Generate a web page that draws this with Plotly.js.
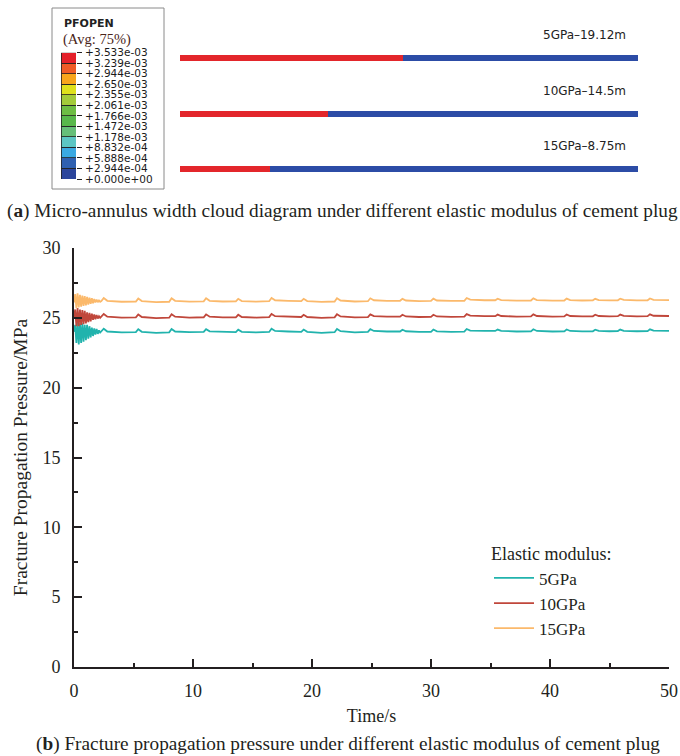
<!DOCTYPE html>
<html>
<head>
<meta charset="utf-8">
<script src="https://cdn.plot.ly/plotly-3.0.1.min.js"></script>
<style>html,body{margin:0;padding:0;background:#fff;}#chart{width:680px;height:756px;}</style>
</head>
<body>
<div id="chart"></div>
<script>
// ---------- Part (b): fracture propagation pressure ----------
const time = [
  0.0,0.1,0.2,0.3,0.4,0.5,0.6,0.7,0.8,0.9,1.0,1.1,1.2,1.3,1.4,1.5,1.6,1.7,1.8,1.9,2.0,2.1,2.2,2.3,
  2.5,2.8,4.0,5.2, 5.4,5.7,6.9,8.0, 8.2,8.5,9.7,10.9, 11.1,11.4,12.5,13.6,
  13.8,14.1,15.3,16.4, 16.6,16.9,18.0,19.1, 19.3,19.6,20.8,21.9, 22.1,22.4,23.6,24.7,
  24.9,25.2,26.3,27.4, 27.6,27.9,29.0,30.0, 30.2,30.5,31.7,32.8, 33.0,33.3,34.5,35.4,
  35.6,35.9,37.2,38.4, 38.6,38.9,40.2,41.2, 41.4,41.7,42.7,43.6, 43.8,44.1,45.0,45.7,
  45.9,46.2,47.3,48.2, 48.4,48.7,50.0
];
const p5GPa = [
  24.0,24.5,23.2,24.7,23.1,24.6,23.2,24.6,23.3,24.5,23.4,24.5,23.5,24.4,23.6,24.3,23.7,24.25,23.8,24.2,23.85,24.1,23.95,24.02,
  24.22,24.02,23.96,23.98, 24.18,24.0,23.92,23.96, 24.2,24.02,23.97,23.99, 24.19,24.03,23.98,23.98,
  24.15,24.0,23.96,23.99, 24.22,24.06,24.02,24.0, 24.16,24.0,23.93,23.97, 24.2,24.04,23.96,23.99,
  24.19,24.06,24.02,24.02, 24.15,24.04,23.99,24.0, 24.16,24.03,24.0,24.01, 24.2,24.09,24.06,24.06,
  24.16,24.07,24.02,24.03, 24.18,24.06,24.02,24.03, 24.17,24.06,24.03,24.04, 24.15,24.07,24.04,24.05,
  24.16,24.07,24.04,24.05, 24.18,24.08,24.06
];
const p10GPa = [
  25.0,25.6,24.4,25.7,24.4,25.6,24.5,25.55,24.55,25.5,24.6,25.4,24.7,25.35,24.75,25.3,24.85,25.25,24.9,25.2,24.95,25.12,25.0,25.08,
  25.28,25.08,25.02,25.03, 25.24,25.06,24.98,25.01, 25.26,25.08,25.02,25.04, 25.25,25.08,25.03,25.04,
  25.22,25.06,25.02,25.05, 25.28,25.12,25.08,25.06, 25.22,25.06,25.0,25.03, 25.26,25.1,25.03,25.05,
  25.25,25.12,25.08,25.08, 25.22,25.1,25.06,25.07, 25.22,25.1,25.07,25.08, 25.27,25.16,25.12,25.12,
  25.23,25.13,25.09,25.1, 25.25,25.13,25.09,25.1, 25.24,25.13,25.1,25.11, 25.22,25.13,25.11,25.12,
  25.23,25.14,25.11,25.12, 25.25,25.15,25.13
];
const p15GPa = [
  26.1,26.7,25.7,26.75,25.75,26.65,25.8,26.6,25.85,26.55,25.9,26.5,25.95,26.45,26.0,26.4,26.05,26.35,26.1,26.3,26.12,26.25,26.15,26.2,
  26.42,26.22,26.15,26.17, 26.38,26.2,26.12,26.15, 26.4,26.22,26.16,26.18, 26.4,26.22,26.17,26.18,
  26.36,26.2,26.16,26.19, 26.42,26.26,26.22,26.2, 26.36,26.2,26.14,26.17, 26.4,26.24,26.17,26.19,
  26.4,26.26,26.22,26.22, 26.36,26.24,26.2,26.21, 26.37,26.24,26.21,26.22, 26.42,26.3,26.26,26.26,
  26.37,26.27,26.23,26.24, 26.39,26.27,26.23,26.24, 26.38,26.27,26.24,26.25, 26.36,26.27,26.25,26.26,
  26.37,26.28,26.25,26.26, 26.39,26.29,26.27
];
const seriesNames = ['5GPa', '10GPa', '15GPa'];
const seriesColors = ['#21b3ad', '#c0473b', '#fbb96b'];

// ---------- Part (a): micro-annulus cloud diagram ----------
const modulusCases = ['5GPa', '10GPa', '15GPa'];
const caseLabels = ['5GPa\u201319.12m', '10GPa\u201314.5m', '15GPa\u20138.75m'];
const pipeLength = 40;                 // m (drawn length of the annulus)
const openLength = [19.5, 12.95, 7.9]; // m (red, opened part as drawn)
const closedLength = openLength.map(v => pipeLength - v);

// contour legend (bottom band first)
const bandTickLabels = ['+0.000e+00','+2.944e-04','+5.888e-04','+8.832e-04','+1.178e-03','+1.472e-03',
  '+1.766e-03','+2.061e-03','+2.355e-03','+2.650e-03','+2.944e-03','+3.239e-03','+3.533e-03'];
const bandColors = ['#2c469c','#2f60b0','#3aa9e2','#5cc6c4','#66bf79','#58b84b','#6dbd44',
  '#a3cb3a','#dfe11c','#f8a51c','#ef5b27','#e4202a'];
const bandValues = [1,1,1,1,1,1,1,1,1,1,1,1];

const serif = 'Liberation Serif, Times New Roman, serif';
const sans = 'DejaVu Sans, Verdana, sans-serif';
const ink = '#231f20';

const traces = [];
// line series
[p5GPa, p10GPa, p15GPa].forEach((vals, i) => {
  traces.push({
    type: 'scatter', mode: 'lines', x: time, y: vals, name: seriesNames[i],
    line: {color: seriesColors[i], width: 1.8}, xaxis: 'x', yaxis: 'y', hoverinfo: 'skip'
  });
});
// annulus bars
traces.push({
  type: 'bar', orientation: 'h', y: modulusCases, x: openLength, width: 0.11,
  marker: {color: '#e3262b'}, xaxis: 'x2', yaxis: 'y2', showlegend: false, hoverinfo: 'skip'
});
traces.push({
  type: 'bar', orientation: 'h', y: modulusCases, x: closedLength, width: 0.11,
  marker: {color: '#2c4ca6'}, xaxis: 'x2', yaxis: 'y2', showlegend: false, hoverinfo: 'skip'
});
// contour legend bands
bandValues.forEach((v, i) => {
  traces.push({
    type: 'bar', x: ['PFOPEN'], y: [v], width: 1,
    marker: {color: bandColors[i], line: {color: '#222', width: 0.8}},
    xaxis: 'x3', yaxis: 'y3', showlegend: false, hoverinfo: 'skip'
  });
});

const W = 680, H = 756;
const px = v => v / W, py = v => 1 - v / H;

const layout = {
  width: W, height: H,
  margin: {l: 0, r: 0, t: 0, b: 0},
  paper_bgcolor: '#ffffff', plot_bgcolor: 'rgba(0,0,0,0)',
  barmode: 'stack',
  font: {family: serif, color: ink},
  showlegend: true,
  legend: {
    x: px(489), y: py(537), xanchor: 'left', yanchor: 'top', traceorder: 'normal',
    bgcolor: 'rgba(0,0,0,0)', borderwidth: 0,
    font: {family: serif, size: 17, color: ink},
    title: {text: 'Elastic modulus:', font: {family: serif, size: 18, color: ink}},
    tracegroupgap: 0, itemwidth: 40
  },
  xaxis: {
    domain: [px(74), px(669)], anchor: 'y', range: [0, 50],
    tickmode: 'array', tickvals: [0, 10, 20, 30, 40, 50],
    ticks: 'inside', ticklen: 8, tickwidth: 2, tickcolor: ink,
    minor: {tickvals: [5, 15, 25, 35, 45], ticks: 'inside', ticklen: 4, tickwidth: 2, tickcolor: ink},
    showline: true, linewidth: 2, linecolor: ink, showgrid: false, zeroline: false,
    tickfont: {family: serif, size: 18, color: ink}, ticklabelstandoff: 6,
    title: {text: 'Time/s', font: {family: serif, size: 18, color: ink}, standoff: 10}
  },
  yaxis: {
    domain: [py(667), py(248)], anchor: 'x', range: [0, 30],
    tickmode: 'array', tickvals: [0, 5, 10, 15, 20, 25, 30],
    ticks: 'inside', ticklen: 8, tickwidth: 2, tickcolor: ink,
    minor: {tickvals: [2.5, 7.5, 12.5, 17.5, 22.5, 27.5], ticks: 'inside', ticklen: 4, tickwidth: 2, tickcolor: ink},
    showline: true, linewidth: 2, linecolor: ink, showgrid: false, zeroline: false,
    tickfont: {family: serif, size: 18, color: ink}, ticklabelstandoff: 8,
    title: {text: 'Fracture Propagation Pressure/MPa', font: {family: serif, size: 19.5, color: ink}, standoff: 10}
  },
  xaxis2: {
    domain: [px(180), px(638)], anchor: 'y2', range: [0, pipeLength],
    visible: false, fixedrange: true
  },
  yaxis2: {
    domain: [py(196.7), py(30.6)], anchor: 'x2', type: 'category',
    categoryorder: 'array', categoryarray: modulusCases,
    range: [2.5, -0.5], visible: false, fixedrange: true
  },
  xaxis3: {
    domain: [px(61), px(76)], anchor: 'y3', range: [-0.5, 0.5],
    visible: false, fixedrange: true
  },
  yaxis3: {
    domain: [py(179), py(52.7)], anchor: 'x3', range: [0, 12], side: 'right',
    tickmode: 'array', tickvals: bandTickLabels.map((_, i) => i), ticktext: bandTickLabels,
    ticks: 'outside', ticklen: 5, tickwidth: 1, tickcolor: '#222',
    showline: false, showgrid: false, zeroline: false,
    tickfont: {family: sans, size: 10.5, color: '#1a1a1a'}, ticklabelstandoff: 1, fixedrange: true
  },
  shapes: [
    {type: 'rect', xref: 'paper', yref: 'paper', x0: px(52), x1: px(164), y0: py(189), y1: py(8),
     line: {color: '#8a8a8a', width: 1}, fillcolor: 'rgba(0,0,0,0)', layer: 'below'}
  ],
  annotations: [
    {xref: 'paper', yref: 'paper', x: px(62), y: py(23), xanchor: 'left', yanchor: 'middle', showarrow: false,
     text: '<b>PFOPEN</b>', font: {family: sans, size: 11, color: '#222'}},
    {xref: 'paper', yref: 'paper', x: px(61), y: py(39.5), xanchor: 'left', yanchor: 'middle', showarrow: false,
     text: '(Avg: 75%)', font: {family: serif, size: 14.5, color: '#4a2418'}},
    {xref: 'paper', yref: 'paper', x: 0.503, y: py(211), xanchor: 'center', yanchor: 'middle', showarrow: false,
     text: '(<b>a</b>) Micro-annulus width cloud diagram under different elastic modulus of cement plug',
     font: {family: serif, size: 19.3, color: ink}},
    {xref: 'paper', yref: 'paper', x: 0.512, y: py(744), xanchor: 'center', yanchor: 'middle', showarrow: false,
     text: '(<b>b</b>) Fracture propagation pressure under different elastic modulus of cement plug',
     font: {family: serif, size: 19.3, color: ink}}
  ].concat(caseLabels.map((t, i) => ({
    xref: 'paper', yref: 'y2', x: px(628), y: modulusCases[i], yshift: 23,
    xanchor: 'right', yanchor: 'middle', showarrow: false, text: t,
    font: {family: sans, size: 12, color: '#222'}
  })))
};

Plotly.newPlot('chart', traces, layout, {displayModeBar: false, staticPlot: true});
</script>
</body>
</html>
